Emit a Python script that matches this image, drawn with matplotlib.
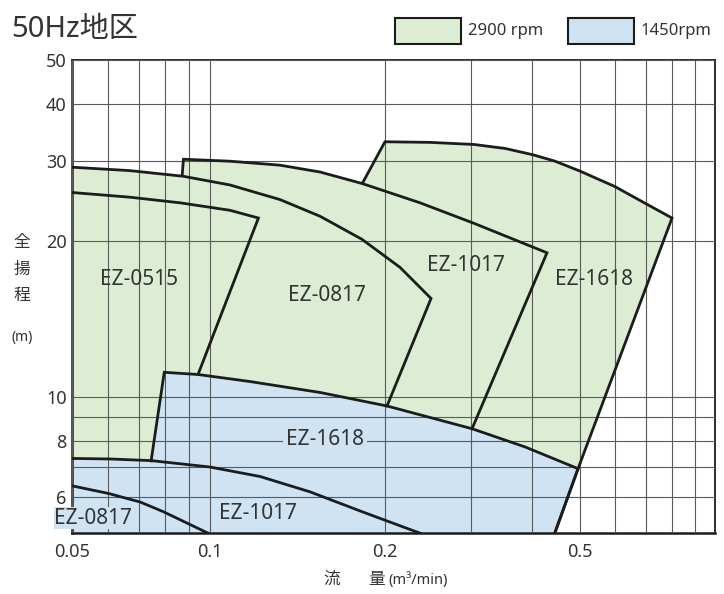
import matplotlib
matplotlib.use('Agg')
import matplotlib.pyplot as plt
import numpy as np
from matplotlib.patches import Rectangle

# figure style
plt.rcParams['font.family'] = ['Noto Sans', 'Noto Sans CJK JP']
plt.rcParams['text.color'] = '#333333'

GREEN = '#dcedd4'
BLUE = '#cfe3f3'
INK = '#1c1c1c'

# 2900 rpm ranges: outline of each range, flow (m3/min) and head (m)
ez0515_q = [0.05, 0.0669, 0.0861, 0.1083, 0.1212, 0.0943]
ez0515_h = [25.6, 25.0, 24.3, 23.4, 22.5, 11.05]

ez0817_q = [0.05, 0.0669, 0.0874, 0.1083, 0.1320, 0.1546, 0.1824, 0.2144, 0.2481, 0.2016]
ez0817_h = [29.1, 28.6, 27.8, 26.6, 24.7, 22.7, 20.2, 17.8, 15.5, 9.54]

ez1017_q = [0.0870, 0.0876, 0.1083, 0.1320, 0.1546, 0.1824, 0.2356, 0.3039, 0.4285, 0.3010]
ez1017_h = [27.9, 30.3, 30.0, 29.4, 28.4, 26.8, 24.3, 21.9, 19.0, 8.50]

ez1618_q = [0.1829, 0.1997, 0.2469, 0.3039, 0.3516, 0.4007, 0.4451, 0.5, 0.5978,
            0.6957, 0.8015, 0.4961, 0.4444]
ez1618_h = [26.9, 33.1, 33.0, 32.65, 32.0, 31.0, 30.0, 28.55, 26.4,
            24.3, 22.5, 6.94, 5.0]

# 1450 rpm ranges
ez1618b_q = [0.0744, 0.0795, 0.0943, 0.1172, 0.1546, 0.2016, 0.3010, 0.3864, 0.4961, 0.4444]
ez1618b_h = [7.22, 11.15, 11.04, 10.70, 10.19, 9.54, 8.50, 7.75, 6.94, 5.0]

ez1017b_q = [0.05, 0.0605, 0.0744, 0.1, 0.1220, 0.1486, 0.1824, 0.2359]
ez1017b_h = [7.31, 7.29, 7.23, 7.00, 6.67, 6.17, 5.58, 5.0]

ez0817b_q = [0.05, 0.06, 0.0704, 0.0791, 0.0993]
ez0817b_h = [6.36, 6.12, 5.86, 5.58, 5.0]

x_grid = [0.05, 0.06, 0.07, 0.08, 0.09, 0.1, 0.2, 0.3, 0.4, 0.5, 0.6, 0.7, 0.8, 0.9, 1.0]
x_labels = ['0.05', '', '', '', '', '0.1', '0.2', '', '', '0.5', '', '', '', '', '']
y_grid = [5, 6, 7, 8, 9, 10, 20, 30, 40, 50]
y_labels = ['', '6', '', '8', '', '10', '20', '30', '40', '50']

# the printed chart is log-log but its decades are not evenly spaced
x_anchor = np.log10([0.05, 0.1, 0.2, 0.5, 1.0])
x_span = [0, 137.4, 313.0, 507.4, 643.0]
y_anchor = np.log10([5, 10, 20, 50])
y_span = [0, 136.6, 292.0, 473.0]


def make_scale(anchor, span):
    def fwd(v):
        v = np.clip(np.asarray(v, dtype=float), 1e-6, None)
        return np.interp(np.log10(v), anchor, span)

    def inv(v):
        return 10 ** np.interp(np.asarray(v, dtype=float), span, anchor)
    return fwd, inv


fig = plt.figure(figsize=(7.24, 5.94), dpi=100)
ax = fig.add_axes([0.0999, 0.1022, 0.8881, 0.7963])
ax.set_xscale('function', functions=make_scale(x_anchor, x_span))
ax.set_yscale('function', functions=make_scale(y_anchor, y_span))
ax.set_xlim(0.05, 1.0)
ax.set_ylim(5, 50)

ranges_2900 = [(ez0515_q, ez0515_h), (ez0817_q, ez0817_h),
               (ez1017_q, ez1017_h), (ez1618_q, ez1618_h)]
ranges_1450 = [(ez1618b_q, ez1618b_h), (ez1017b_q, ez1017b_h),
               (ez0817b_q, ez0817b_h)]

for q, h in ranges_2900:
    ax.fill(q + [q[-1], q[0]], h + [5, 5], color=GREEN, lw=0, zorder=1)
for q, h in ranges_1450:
    ax.fill(q + [q[-1], q[0]], h + [5, 5], color=BLUE, lw=0, zorder=1.5)
for q, h in ranges_2900 + ranges_1450:
    ax.plot(q, h, color=INK, lw=2, solid_joinstyle='miter', zorder=3)

ax.set_xticks(x_grid, x_labels)
ax.set_yticks(y_grid, y_labels)
ax.minorticks_off()
ax.tick_params(length=0, labelsize=13, labelcolor='#333333')
ax.tick_params(axis='x', pad=7)
ax.tick_params(axis='y', pad=4)
ax.set_axisbelow(False)
ax.grid(True, color='#5a5a5a', lw=0.8)
for spine in ('top', 'right', 'bottom', 'left'):
    ax.spines[spine].set_color(INK)
    ax.spines[spine].set_linewidth(1.3)
ax.spines['left'].set_linewidth(1.8)
ax.spines['bottom'].set_linewidth(1.8)

# model names
ax.text(0.0700, 16.9, 'EZ-0515', ha='center', va='center', fontsize=15, zorder=4)
ax.text(0.1589, 15.67, 'EZ-0817', ha='center', va='center', fontsize=15, zorder=4)
ax.text(0.2925, 17.99, 'EZ-1017', ha='center', va='center', fontsize=15, zorder=4)
ax.text(0.5378, 16.83, 'EZ-1618', ha='center', va='center', fontsize=15, zorder=4)
ax.text(0.1577, 8.03, 'EZ-1618', ha='center', va='center', fontsize=15, zorder=4,
        bbox=dict(facecolor=BLUE, edgecolor='none', pad=2))
ax.text(0.1210, 5.54, 'EZ-1017', ha='center', va='center', fontsize=15, zorder=4)
ax.text(0.0556, 5.40, 'EZ-0817', ha='center', va='center', fontsize=15, zorder=4,
        bbox=dict(facecolor=BLUE, edgecolor='none', pad=0.5))

# titles and axis names
fig.text(0.016, 0.950, '50Hz地区', fontsize=21, va='center')
for i, ch in enumerate(['全', '揚', '程']):
    fig.text(0.030, 1 - (243 + 26.5 * i) / 594, ch, fontsize=12, ha='center', va='center')
fig.text(0.030, 1 - 337 / 594, '(m)', fontsize=10, ha='center', va='center')
fig.text(0.458, 1 - 580 / 594, '流', fontsize=12, ha='center', va='center')
fig.text(0.520, 1 - 580 / 594, '量', fontsize=12, ha='center', va='center')
fig.text(0.537, 1 - 580 / 594, '(m³/min)', fontsize=10.5, ha='left', va='center')

# legend keys
for x0, color, label in [(395, GREEN, '2900 rpm'), (568, BLUE, '1450rpm')]:
    fig.patches.append(Rectangle((x0 / 724, 1 - 44 / 594), 66 / 724, 26 / 594,
                                 transform=fig.transFigure, facecolor=color,
                                 edgecolor=INK, lw=1.5))
    fig.text((x0 + 73) / 724, 1 - 31 / 594, label, fontsize=12, va='center')

fig.savefig('out.png', dpi=100)
